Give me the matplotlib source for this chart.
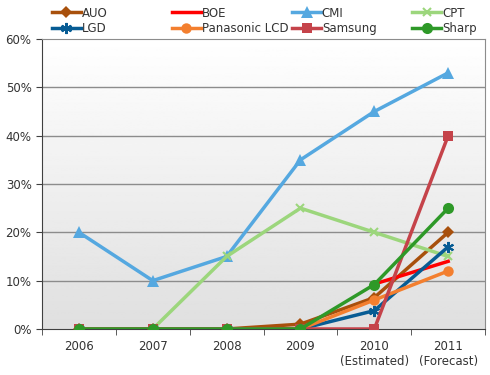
import numpy as np
import matplotlib.pyplot as plt
from matplotlib.ticker import PercentFormatter

# Dane
lata = ["2006", "2007", "2008", "2009", "2010\n(Estimated)", "2011\n(Forecast)"]
nan = np.nan
auo = [0, 0, 0, 1, 6.5, 20]
boe = [nan, nan, nan, nan, 9.3, 14]
cmi = [20, 10, 15, 35, 45, 53]
cpt = [0, 0, 15, 25, 20, 15]
lgd = [0, 0, 0, 0, 3.8, 17]
panasonic = [0, 0, 0, 0, 6, 12]
samsung = [0, 0, 0, 0, 0, 40]
sharp = [0, 0, 0, 0, 9.2, 25]

serie = [
    ("AUO", auo, "#A8500C", "D", 6, 3),
    ("BOE", boe, "#FF0000", None, 0, 3),
    ("CMI", cmi, "#55A8E0", "^", 8, 3),
    ("CPT", cpt, "#9CD67C", "x", 6, 3),
    ("LGD", lgd, "#075C94", (6, 2, 0), 8, 3),
    ("Panasonic LCD", panasonic, "#F37F2F", "o", 7.5, 3),
    ("Samsung", samsung, "#C5434A", "s", 7.5, 3),
    ("Sharp", sharp, "#2E9928", "o", 8, 4),
]

plt.rcParams["font.family"] = ["DejaVu Sans"]
fig = plt.figure(figsize=(4.9, 3.75), dpi=100)
ax = fig.add_axes([0.0857, 0.1227, 0.9043, 0.7733])

x = np.arange(len(lata))

# Tło z gradientem (biały u góry, szary na dole)
grad = np.linspace(0, 1, 256).reshape(-1, 1)
ax.imshow(grad, extent=[-0.5, 5.5, 0, 60], aspect="auto", cmap="gray",
          vmin=-7, vmax=1, zorder=0, origin="lower")
ax.set_xlim(-0.5, 5.5)
ax.set_ylim(0, 60)

for y in range(10, 60, 10):
    ax.axhline(y, color="#8c8c8c", lw=1, zorder=1)

uchwyty = {}
for nazwa, dane, kolor, marker, ms, zo in serie:
    mew = 1.5 if marker in ("x", (6, 2, 0)) else 0
    (h,) = ax.plot(x, dane, color=kolor, lw=2.5, marker=marker, markersize=ms,
                   markeredgewidth=mew, markeredgecolor=kolor, label=nazwa, zorder=zo)
    uchwyty[nazwa] = h

ax.yaxis.set_major_formatter(PercentFormatter(decimals=0))
ax.set_yticks(range(0, 61, 10))
ax.set_xticks(x)
ax.set_xticklabels(lata)
ax.set_xticks(np.arange(-0.5, 6, 1), minor=True)
ax.tick_params(axis="x", which="major", length=0, pad=8)
ax.tick_params(axis="x", which="minor", length=4, color="#404040")
ax.tick_params(axis="y", length=4, color="#404040")
ax.tick_params(labelsize=8.5, labelcolor="#333333")

for s in ["top", "right"]:
    ax.spines[s].set_color("#8c8c8c")
for s in ["left", "bottom"]:
    ax.spines[s].set_color("#404040")

# Legenda: 4 kolumny o równej szerokości
kolumny = [["AUO", "LGD"], ["BOE", "Panasonic LCD"], ["CMI", "Samsung"], ["CPT", "Sharp"]]
for i, kol in enumerate(kolumny):
    fig.legend([uchwyty[k] for k in kol], kol, loc="upper left",
               bbox_to_anchor=(0.097 + i * 0.245, 0.995), frameon=False, fontsize=8.5,
               handlelength=2.4, handletextpad=0.1, labelspacing=0.2,
               borderaxespad=0, labelcolor="#333333")

fig.savefig("out.png", dpi=100)
